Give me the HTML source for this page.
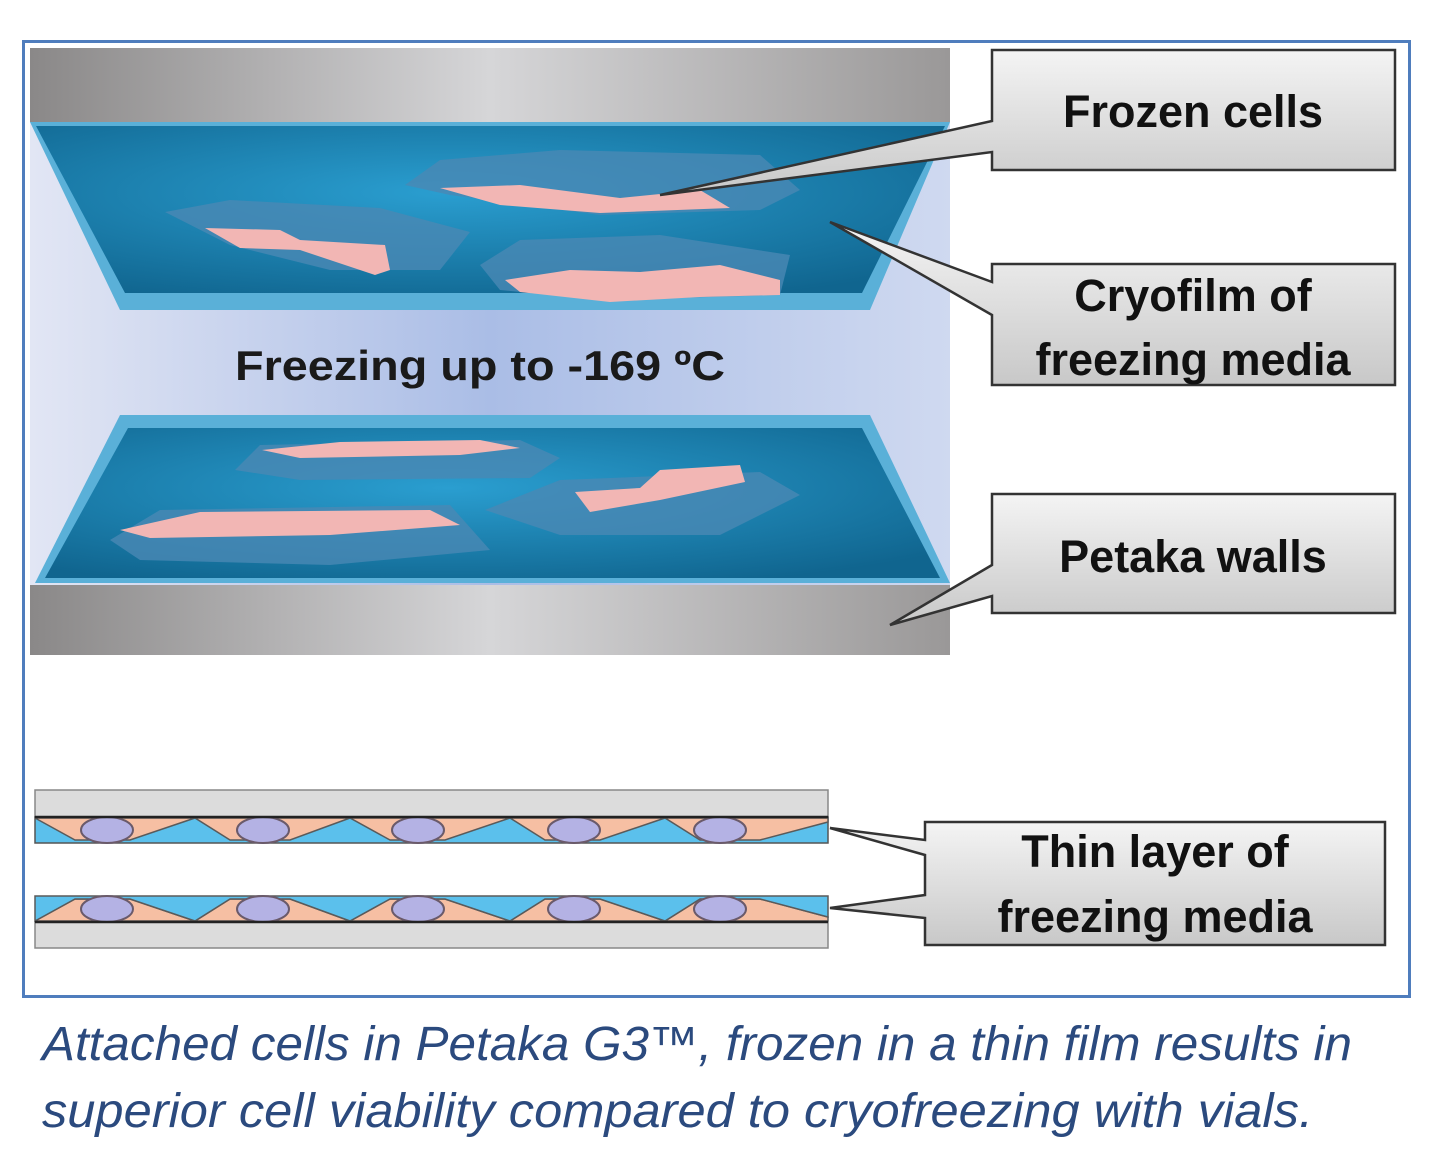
<!DOCTYPE html>
<html><head><meta charset="utf-8"><style>
html,body{margin:0;padding:0;background:#fff;}
svg{display:block;}
</style></head><body>
<svg width="1448" height="1156" viewBox="0 0 1448 1156" xmlns="http://www.w3.org/2000/svg">
<defs>
<linearGradient id="wall" x1="0" x2="1" y1="0" y2="0">
<stop offset="0" stop-color="#8a8888"/><stop offset="0.5" stop-color="#d6d6d8"/><stop offset="1" stop-color="#9a9898"/>
</linearGradient>
<linearGradient id="bg" x1="0" x2="1" y1="0" y2="0">
<stop offset="0" stop-color="#e2e6f4"/><stop offset="0.5" stop-color="#aabde6"/><stop offset="1" stop-color="#cfd9f0"/>
</linearGradient>
<radialGradient id="water" cx="0.45" cy="0.4" r="0.7">
<stop offset="0" stop-color="#2a9ed0"/><stop offset="1" stop-color="#10658f"/>
</radialGradient>
<linearGradient id="box" x1="0" x2="0" y1="0" y2="1">
<stop offset="0" stop-color="#f4f4f4"/><stop offset="1" stop-color="#c8c8c8"/>
</linearGradient>
</defs>
<rect x="23.5" y="41.5" width="1386" height="955" fill="none" stroke="#4f7dbd" stroke-width="3"/>
<rect x="30" y="48" width="920" height="607" fill="url(#bg)"/>
<rect x="30" y="48" width="920" height="74" fill="url(#wall)"/>
<polygon points="30,122 950,122 870,310 120,310" fill="#5ab0d8"/>
<polygon points="36,126 945,126 862,293 125,293" fill="url(#water)"/>
<polygon points="120,415 870,415 950,583 35,583" fill="#5ab0d8"/>
<polygon points="128,428 862,428 940,578 45,578" fill="url(#water)"/>
<rect x="30" y="585" width="920" height="70" fill="url(#wall)"/>
<path d="M165,212 L230,200 L380,208 L470,232 L440,270 L330,270 L230,245 Z" fill="#4a88b4" opacity="0.8"/>
<path d="M205,228 L280,230 L300,240 L385,245 L390,270 L375,275 L300,250 L240,248 Z" fill="#f2b6b4"/>
<path d="M405,185 L440,160 L560,150 L760,155 L800,190 L760,210 L600,215 L450,195 Z" fill="#4a88b4" opacity="0.8"/>
<path d="M440,188 L520,185 L620,198 L700,190 L730,208 L600,213 L500,205 Z" fill="#f2b6b4"/>
<path d="M480,265 L520,240 L660,235 L790,255 L780,295 L600,300 L500,290 Z" fill="#4a88b4" opacity="0.8"/>
<path d="M505,280 L570,270 L640,272 L720,265 L780,280 L780,295 L700,297 L610,302 L520,292 Z" fill="#f2b6b4"/>
<path d="M235,470 L260,445 L520,440 L560,458 L530,478 L300,480 Z" fill="#4a88b4" opacity="0.8"/>
<path d="M262,450 L340,442 L480,440 L520,448 L460,455 L300,458 Z" fill="#f2b6b4"/>
<path d="M110,540 L160,510 L450,505 L490,550 L330,565 L140,560 Z" fill="#4a88b4" opacity="0.8"/>
<path d="M120,530 L200,512 L430,510 L460,525 L330,535 L150,538 Z" fill="#f2b6b4"/>
<path d="M485,510 L560,480 L760,472 L800,495 L720,535 L560,535 Z" fill="#4a88b4" opacity="0.8"/>
<path d="M575,492 L640,488 L660,470 L740,465 L745,482 L660,500 L590,512 Z" fill="#f2b6b4"/>
<text x="235" y="380" textLength="490" lengthAdjust="spacingAndGlyphs" font-family="Liberation Sans, sans-serif" font-weight="bold" font-size="42" fill="#1a1a1a">Freezing up to -169 ºC</text>
<g font-family="Liberation Sans, sans-serif" font-weight="bold" font-size="45" fill="#111" text-anchor="middle">
<path d="M992,50 H1395 V170 H992 V152 L660,195 L992,121 Z" fill="url(#box)" stroke="#333" stroke-width="2.5"/>
<text x="1193" y="127">Frozen cells</text>
<path d="M992,264 H1395 V385 H992 V315 L830,222 L992,282 Z" fill="url(#box)" stroke="#333" stroke-width="2.5"/>
<text x="1193" y="311">Cryofilm of</text>
<text x="1193" y="375">freezing media</text>
<path d="M992,494 H1395 V613 H992 V596 L890,625 L992,565 Z" fill="url(#box)" stroke="#333" stroke-width="2.5"/>
<text x="1193" y="572">Petaka walls</text>
<path d="M925,822 H1385 V945 H925 V918 L830,908 L925,895 V855 L830,828 L925,840 Z" fill="url(#box)" stroke="#333" stroke-width="2.5"/>
<text x="1155" y="867">Thin layer of</text>
<text x="1155" y="932">freezing media</text>
</g>
<rect x="35" y="790" width="793" height="27" fill="#dcdcdc" stroke="#888" stroke-width="1.5"/>
<rect x="35" y="817" width="793" height="26" fill="#5bc0ec" stroke="#555" stroke-width="1.5"/>
<g stroke="#5a5a5a" stroke-width="1.5">
<path d="M35,818 L75,840 L130,840 L195,818 L230,840 L290,840 L350,818 L390,840 L445,840 L510,818 L545,840 L600,840 L665,818 L700,840 L760,840 L828,822 L828,818 Z" fill="#f6bfa3"/>
<path d="M35,921 L75,899 L130,899 L195,921 L230,899 L290,899 L350,921 L390,899 L445,899 L510,921 L545,899 L600,899 L665,921 L700,899 L760,899 L828,917 L828,921 Z" fill="#f6bfa3"/>
</g>
<rect x="35" y="922" width="793" height="26" fill="#dcdcdc" stroke="#888" stroke-width="1.5"/>
<path d="M35,896 H828 L828,917 L760,899 L700,899 L665,921 L600,899 L545,899 L510,921 L445,899 L390,899 L350,921 L290,899 L230,899 L195,921 L130,899 L75,899 L35,921 Z" fill="#5bc0ec" stroke="#5a5a5a" stroke-width="1.5"/>
<g fill="#b4b2e4" stroke="#6a5a6a" stroke-width="2">
<ellipse cx="107" cy="830" rx="26" ry="13"/><ellipse cx="263" cy="830" rx="26" ry="13"/><ellipse cx="418" cy="830" rx="26" ry="13"/><ellipse cx="574" cy="830" rx="26" ry="13"/><ellipse cx="720" cy="830" rx="26" ry="13"/>
<ellipse cx="107" cy="909" rx="26" ry="13"/><ellipse cx="263" cy="909" rx="26" ry="13"/><ellipse cx="418" cy="909" rx="26" ry="13"/><ellipse cx="574" cy="909" rx="26" ry="13"/><ellipse cx="720" cy="909" rx="26" ry="13"/>
</g>
<line x1="35" y1="817" x2="828" y2="817" stroke="#222" stroke-width="2.5"/>
<line x1="35" y1="922" x2="828" y2="922" stroke="#222" stroke-width="2.5"/>
<g font-family="Liberation Sans, sans-serif" font-style="italic" font-size="48" fill="#2b4a7e">
<text x="42" y="1060" textLength="1310" lengthAdjust="spacingAndGlyphs">Attached cells in Petaka G3™, frozen in a thin film results in</text>
<text x="42" y="1127" textLength="1271" lengthAdjust="spacingAndGlyphs">superior cell viability compared to cryofreezing with vials.</text>
</g>
</svg>
</body></html>
